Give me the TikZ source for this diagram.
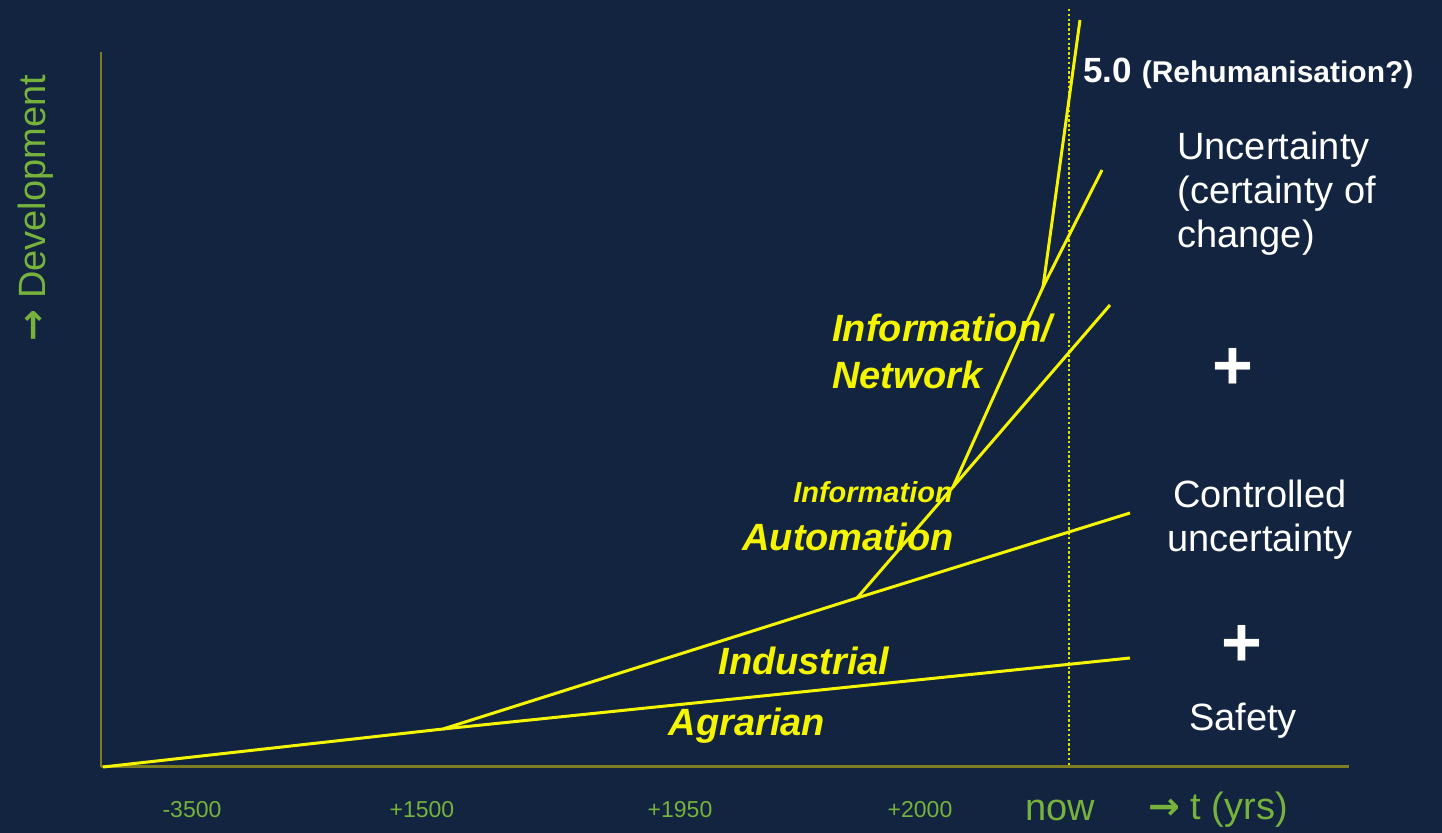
\documentclass[tikz,border=0pt]{standalone}
\usepackage{fontspec}
\setmainfont{Liberation Sans}
\newfontfamily\arrowfont{DejaVu Sans}
\usetikzlibrary{positioning}
\definecolor{navy}{RGB}{18,36,63}
\definecolor{axisolive}{RGB}{125,125,35}
\definecolor{lime}{RGB}{118,178,60}
\definecolor{eraylw}{RGB}{245,245,0}

\begin{document}
\begin{tikzpicture}[x=0.5pt,y=-0.5pt,
    era/.style={eraylw, inner sep=0pt, font=\bfseries\itshape\fontsize{19}{23.5}\selectfont},
    side/.style={white, inner sep=0pt, font=\fontsize{19}{22}\selectfont},
    plus/.style={white, inner sep=0pt, font=\bfseries\fontsize{35}{35}\selectfont},
    tick/.style={lime, inner sep=0pt, font=\fontsize{11.5}{12}\selectfont},
    growth/.style={eraylw, line width=1.5pt, line join=round}]
    % Background
    \fill[navy] (0,0) rectangle (1442,833);
    \useasboundingbox (0,0) rectangle (1442,833);

    % Axes
    \coordinate (origin) at (101,767);
    \coordinate (ytop) at (101,52);
    \coordinate (xend) at (1349,767);
    \draw[axisolive, line width=1.2pt] (origin) -- (ytop);
    \draw[axisolive, line width=1.5pt] (origin) -- (xend);

    % Now line
    \coordinate (nowtop) at (1069,9);
    \coordinate (nowbot) at (1069,767);
    \draw[eraylw!92!black, line width=1.2pt, dash pattern=on 1.2pt off 1.2pt] (nowtop) -- (nowbot);

    % Growth lines
    \coordinate (kagr) at (443,729);
    \coordinate (kind) at (857,598);
    \coordinate (kaut) at (953,487);
    \coordinate (knet) at (1043,287);
    \draw[growth] (103,767) -- (kagr) -- (1130,658);
    \draw[growth] (kagr) -- (kind) -- (1130,513);
    \draw[growth] (kind) -- (kaut) -- (1110,305);
    \draw[growth] (kaut) -- (knet) -- (1102,170);
    \draw[growth] (knet) -- (1080,20);

    % Era labels
    \node[era, anchor=west, align=left] (network) at (832,351) {Information/\\Network};
    \node[era, font=\bfseries\itshape\fontsize{14.5}{16}\selectfont] (info) at (873,492) {Information};
    \node[era] (automation) at (848,537) {Automation};
    \node[era] (industrial) at (804,661) {Industrial};
    \node[era] (agrarian) at (747,726) {Agrarian};

    % Right hand side
    \node[white, inner sep=0pt, anchor=west, font=\bfseries] (rehum) at (1083,73)
        {{\fontsize{17.5}{19}\selectfont 5.0 }{\fontsize{15}{17}\selectfont (Rehumanisation?)}};
    \node[side, anchor=west, align=left] (uncert) at (1177,194) {Uncertainty\\(certainty of\\change)};
    \node[plus] (plusa) at (1233,369) {+};
    \node[side, align=center] (controlled) at (1260,520) {Controlled\\uncertainty};
    \node[plus] (plusb) at (1242,646) {+};
    \node[side] (safety) at (1243,721) {Safety};

    % Axis labels
    \node[lime, inner sep=0pt, rotate=90, font=\fontsize{19}{22}\selectfont] (ylabel) at (36,208)
        {{\arrowfont\bfseries →} Development};
    \node[tick] (t3500) at (192,810) {-3500};
    \node[tick] (t1500) at (422,810) {+1500};
    \node[tick] (t1950) at (680,810) {+1950};
    \node[tick] (t2000) at (920,810) {+2000};
    \node[lime, inner sep=0pt, font=\fontsize{19}{22}\selectfont] (now) at (1060,810) {now};
    \node[lime, inner sep=0pt, anchor=west, font=\fontsize{19}{22}\selectfont] (tlabel) at (1148,810)
        {{\arrowfont\bfseries →} t (yrs)};
\end{tikzpicture}
\end{document}
